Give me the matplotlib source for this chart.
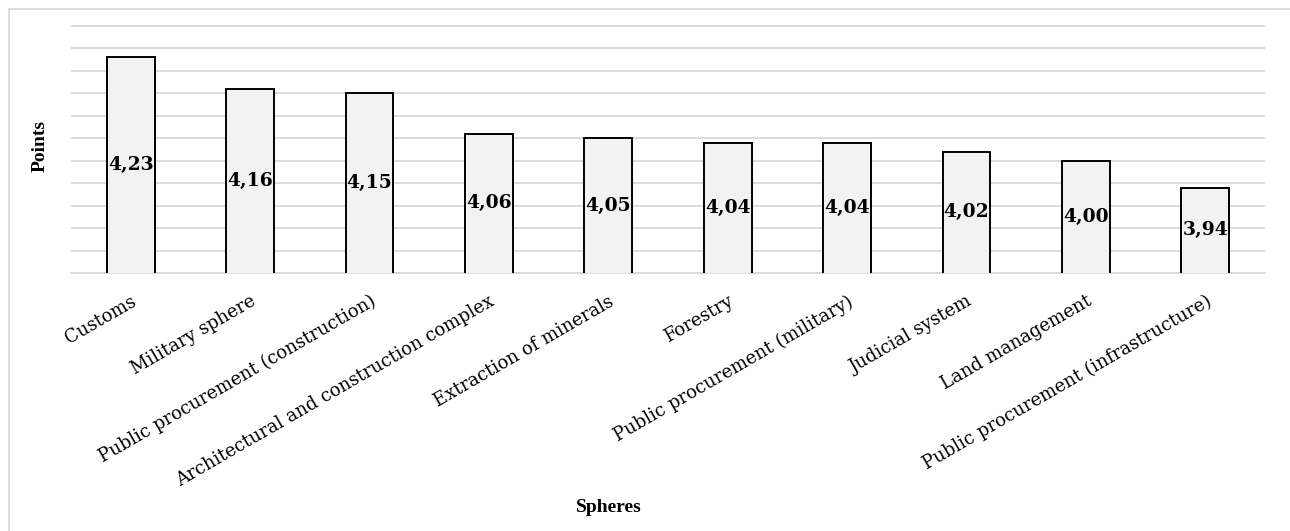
import matplotlib
matplotlib.use("Agg")
import matplotlib.pyplot as plt
import numpy as np
from matplotlib.patches import Rectangle

spheres = ["Customs", "Military sphere", "Public procurement (construction)",
           "Architectural and construction complex", "Extraction of minerals",
           "Forestry", "Public procurement (military)", "Judicial system",
           "Land management", "Public procurement (infrastructure)"]
points = [4.23, 4.16, 4.15, 4.06, 4.05, 4.04, 4.04, 4.02, 4.00, 3.94]

plt.rcParams['font.family'] = ['DejaVu Serif']

W, H = 1290, 531
fig = plt.figure(figsize=(W / 100, H / 100), dpi=100)
# axes box in pixels: left 71, right 1265, top 25, bottom 273
ax = fig.add_axes([71 / W, 1 - 273 / H, (1265 - 71) / W, (273 - 25) / H])

x = np.arange(len(spheres))
ax.bar(x, points, width=0.4, color='#f2f2f2', edgecolor='black', linewidth=1.4, zorder=3)

ax.set_ylim(3.75, 4.3015)
ax.set_xlim(-0.5, len(spheres) - 0.5)
ax.set_yticks(np.arange(3.75, 4.301, 0.05))
ax.set_yticklabels([])
ax.tick_params(axis='y', length=0)
ax.tick_params(axis='x', length=0, pad=14)
ax.grid(axis='y', color='#d9d9d9', linewidth=1.3, zorder=0)
for s in ['top', 'right', 'left']:
    ax.spines[s].set_visible(False)
ax.spines['bottom'].set_color('#d9d9d9')
ax.spines['bottom'].set_linewidth(1.3)

ax.set_xticks(x)
ax.set_xticklabels(spheres, rotation=30, ha='right', rotation_mode='anchor', fontsize=13)

for xi, v in zip(x, points):
    ax.text(xi, (3.75 + v) / 2, f"{v:.2f}".replace('.', ','), ha='center', va='center',
            fontsize=13.5, fontweight='bold', zorder=4)

fig.text(40 / W, 1 - 146 / H, "Points", rotation=90, ha='center', va='center',
         fontsize=14, fontweight='bold', family='Liberation Serif')
fig.text(609 / W, 1 - 508 / H, "Spheres", ha='center', va='center',
         fontsize=14, fontweight='bold', family='Liberation Serif')

# outer chart frame
fig.patches.append(Rectangle((9 / W, -0.05), (W + 20) / W, 1 - 9 / H + 0.05,
                             transform=fig.transFigure, fill=False,
                             edgecolor='#d9d9d9', linewidth=1.3))

fig.savefig("out.png", dpi=100)
